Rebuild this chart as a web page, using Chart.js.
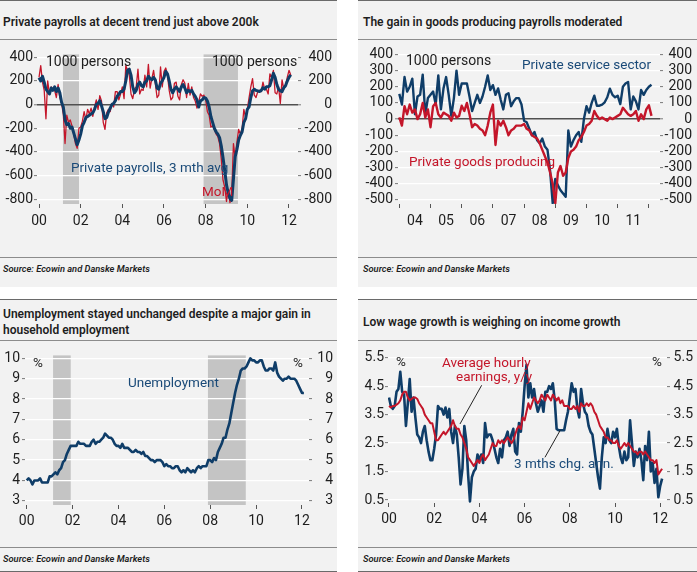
<!DOCTYPE html>
<html>
<head>
<meta charset="utf-8">
<script src="https://cdn.jsdelivr.net/npm/chart.js@4.4.0/dist/chart.umd.min.js"></script>
<style>
  body { margin: 0; width: 697px; height: 572px; background: #fff; position: relative; overflow: hidden;
         font-family: Roboto, "Noto Sans", sans-serif; color: #1e1e1e; }
  .panel { position: absolute; background: #f2f2f2; }
  .hline { position: absolute; height: 1px; background: #8c8c8c; }
  .hline.dark { background: #6a6a6a; }
  .title { position: absolute; font-size: 12px; font-weight: 600; line-height: 15.5px; white-space: nowrap; }
  .src { position: absolute; font-size: 9.3px; font-style: italic; font-weight: 600; line-height: 11px; white-space: nowrap; }
  .lbl { position: absolute; font-size: 13.5px; line-height: 14px; white-space: nowrap; }
  .unit { font-size: 14px; }
  .blue { color: #1a4a78; }
  .red { color: #c4162a; }
  canvas { position: absolute; }
</style>
</head>
<body>

<div class="panel" style="left:0;top:0;width:337px;height:287px"></div>
<div class="panel" style="left:358px;top:0;width:339px;height:287px"></div>
<div class="panel" style="left:0;top:299px;width:337px;height:273px"></div>
<div class="panel" style="left:358px;top:299px;width:339px;height:273px"></div>

<div class="hline dark" style="left:0;top:0;width:337px"></div>
<div class="hline dark" style="left:358px;top:0;width:339px"></div>
<div class="hline" style="left:0;top:39px;width:337px"></div>
<div class="hline" style="left:358px;top:39px;width:339px"></div>
<div class="hline" style="left:0;top:257px;width:337px"></div>
<div class="hline" style="left:358px;top:257px;width:339px"></div>

<div class="hline dark" style="left:0;top:299px;width:337px"></div>
<div class="hline dark" style="left:358px;top:299px;width:339px"></div>
<div class="hline" style="left:0;top:340px;width:337px"></div>
<div class="hline" style="left:358px;top:340px;width:339px"></div>
<div class="hline" style="left:0;top:547px;width:337px"></div>
<div class="hline" style="left:358px;top:547px;width:339px"></div>
<div class="hline dark" style="left:0;top:571px;width:337px"></div>
<div class="hline dark" style="left:358px;top:571px;width:339px"></div>

<div class="title" style="left:3px;top:15px">Private payrolls at decent trend just above 200k</div>
<div class="title" style="left:363px;top:15px">The gain in goods producing payrolls moderated</div>
<div class="title" style="left:3px;top:307px">Unemployment stayed unchanged despite a major gain in<br>household employment</div>
<div class="title" style="left:363px;top:315px">Low wage growth is weighing on income growth</div>

<div class="src" style="left:3px;top:263px">Source: Ecowin and Danske Markets</div>
<div class="src" style="left:363px;top:263px">Source: Ecowin and Danske Markets</div>
<div class="src" style="left:3px;top:553px">Source: Ecowin and Danske Markets</div>
<div class="src" style="left:363px;top:553px">Source: Ecowin and Danske Markets</div>

<canvas id="c1" width="337" height="200" style="left:0;top:42px"></canvas>
<canvas id="c2" width="339" height="200" style="left:358px;top:42px"></canvas>
<canvas id="c3" width="337" height="200" style="left:0;top:342px"></canvas>
<canvas id="c4" width="339" height="200" style="left:358px;top:342px"></canvas>

<div class="lbl unit" style="left:46px;top:54px">1000 persons</div>
<div class="lbl unit" style="left:212px;top:54px">1000 persons</div>
<div class="lbl blue" style="left:71px;top:160px">Private payrolls, 3 mth avg</div>
<div class="lbl red" style="left:202px;top:184px">MoM</div>

<div class="lbl unit" style="left:406px;top:53px">1000 persons</div>
<div class="lbl blue" style="left:522px;top:57px">Private service sector</div>
<div class="lbl red" style="left:409px;top:154px">Private goods producing</div>

<div class="lbl" style="left:33px;top:355px">%</div>
<div class="lbl" style="left:293px;top:355px">%</div>
<div class="lbl blue" style="left:128px;top:375px">Unemployment</div>

<div class="lbl" style="left:396px;top:354px">%</div>
<div class="lbl" style="left:652px;top:354px">%</div>
<div class="lbl red" style="left:442px;top:355px">Average hourly</div>
<div class="lbl red" style="left:456px;top:369px">earnings, y/y</div>
<div class="lbl blue" style="left:514px;top:456px">3 mths chg. ann.</div>

<script>
// monthly series, first value = January of the start year
const payrollStart = 2000;
const payrollsMoM = [
  230, 330, 190, 120, -120, 200, 90, 150, 130, 120, 60, 170,
  60, 10, -80, -330, -90, -150, -130, -180, -250, -330, -370, -200,
  -190, -140, -60, -130, -40, -80, -30, -100, -20, 40, -40, 75,
  30, -150, -210, -70, -40, -60, 10, -20, 110, 110, 40, 90,
  150, 50, 330, 290, 250, 90, 50, 130, 150, 300, 90, 130,
  120, 250, 150, 340, 140, 220, 290, 180, 60, 80, 320, 150,
  280, 310, 250, 120, 40, 60, 180, 190, 70, 40, 170, 210,
  180, 60, 180, 80, 150, 60, 30, -30, 20, 90, 70, 80,
  40, -60, -90, -190, -180, -210, -250, -270, -330, -460, -640, -700,
  -820, -720, -830, -760, -330, -450, -320, -210, -250, -200, -40, -110,
  -40, 60, 150, 220, 80, 60, 110, 120, 110, 190, 130, 130,
  90, 260, 230, 290, 100, 90, 150, 10, 210, 130, 160, 230,
  290, 250
];
const payrolls3m = [
  227, 200, 240, 190, 130, 110, 90, 140, 120, 150, 110, 140,
  100, 20, -20, -130, -170, -160, -200, -190, -240, -290, -340, -300,
  -250, -180, -150, -110, -100, -90, -80, -70, -40, 0, 10, 33,
  -10, -60, -119, -110, -63, -30, 0, 10, 33, 70, 88, 110,
  110, 130, 200, 290, 300, 250, 150, 100, 120, 170, 190, 160,
  150, 190, 200, 240, 220, 210, 230, 210, 140, 130, 180, 200,
  230, 280, 260, 200, 130, 100, 130, 150, 130, 110, 150, 170,
  140, 100, 120, 110, 120, 90, 70, 40, -20, 30, 40, 60,
  55, 30, -20, -100, -150, -200, -230, -250, -280, -350, -450, -560,
  -680, -750, -796, -810, -630, -440, -380, -300, -260, -230, -150, -119,
  -40, -20, 60, 116, 130, 120, 116, 110, 120, 143, 130, 150,
  150, 160, 210, 265, 230, 170, 130, 116, 110, 143, 160, 199,
  230, 253
];

const sectorStart = 2004;
const serviceSector = [
  156, 90, 260, 170, 200, 250, 30, 140, 150, 275, 30, 130,
  150, 170, 90, 270, 60, 190, 260, 150, 20, 130, 300, 150,
  220, 220, 220, 140, 50, 100, 150, 100, 140, 200, 270, 180,
  210, 150, 190, 120, 60, 150, 160, 80, 110, 130, 130, 90,
  -10, -20, -60, -100, -80, -130, -150, -120, -170, -190, -320, -520,
  -370, -410, -440, -460, -480, -70, -170, -130, -100, -80, -140, 0,
  80, 40, 100, 145, 83, 83, 90, 104, 135, 188, 150, 135,
  145, 93, 200, 220, 230, 60, 140, 110, 60, 180, 150, 180,
  200, 212
];
const goodsProducing = [
  10, -40, 80, 30, 90, 40, 60, 0, 30, 100, 10, 60,
  -50, 80, 100, 30, 10, 40, 30, 20, -10, 40, 10, 20,
  83, 50, 100, 30, -50, -30, -40, -60, -70, -100, -40, 40,
  90, -160, -10, -40, -10, -50, -100, -70, -60, -40, -40, -40,
  -30, -60, -70, -100, -110, -120, -150, -190, -230, -270, -330, -400,
  -520, -330, -290, -350, -330, -240, -200, -190, -170, -130, -110, -80,
  -40, -30, -10, 50, 20, 0, 10, 0, -10, 10, 0, 10,
  20, 30, 70, 50, 30, 20, 30, 50, -10, 30, 0, 60,
  85, 20
];

const unemploymentStart = 2000;
const unemployment = [
  4.0, 4.1, 4.0, 3.8, 4.0, 4.0, 4.0, 4.1, 3.9, 3.9, 3.9, 3.9,
  4.2, 4.2, 4.3, 4.4, 4.3, 4.5, 4.6, 4.9, 5.0, 5.3, 5.5, 5.7,
  5.7, 5.7, 5.7, 5.9, 5.8, 5.8, 5.8, 5.7, 5.7, 5.7, 5.9, 6.0,
  5.8, 5.9, 5.9, 6.0, 6.1, 6.3, 6.2, 6.1, 6.1, 6.0, 5.8, 5.7,
  5.7, 5.6, 5.8, 5.6, 5.6, 5.6, 5.5, 5.4, 5.4, 5.5, 5.4, 5.4,
  5.3, 5.4, 5.2, 5.2, 5.1, 5.0, 5.0, 4.9, 5.0, 5.0, 5.0, 4.9,
  4.7, 4.8, 4.7, 4.7, 4.6, 4.6, 4.7, 4.7, 4.5, 4.4, 4.5, 4.4,
  4.6, 4.5, 4.4, 4.5, 4.4, 4.6, 4.7, 4.6, 4.7, 4.7, 4.7, 5.0,
  5.0, 4.9, 5.1, 5.0, 5.4, 5.6, 5.8, 6.1, 6.1, 6.5, 6.8, 7.3,
  7.8, 8.3, 8.7, 9.0, 9.4, 9.5, 9.5, 9.6, 9.8, 10.0, 9.9, 9.9,
  9.8, 9.8, 9.9, 9.9, 9.6, 9.4, 9.4, 9.5, 9.5, 9.4, 9.8, 9.3,
  9.1, 9.0, 8.9, 9.0, 9.0, 9.1, 9.0, 9.0, 9.0, 8.9, 8.7, 8.5,
  8.3, 8.3
];

const earningsStart = 2000;
const earningsYoY = [
  3.8, 3.75, 3.8, 3.8, 3.85, 3.9, 4.0, 4.2, 4.3, 4.3, 4.1, 4.0,
  4.05, 4.1, 4.1, 4.05, 3.9, 3.8, 3.7, 3.5, 3.4, 3.3, 3.2, 3.2,
  2.9, 2.6, 2.6, 2.7, 2.8, 2.9, 2.8, 2.9, 3.0, 3.1, 3.3, 3.1,
  3.0, 3.0, 2.8, 2.7, 2.5, 2.3, 2.0, 1.9, 1.8, 1.7, 1.8, 1.9,
  1.8, 2.0, 2.1, 1.9, 2.0, 2.1, 2.3, 2.5, 2.4, 2.4, 2.6, 2.5,
  2.6, 2.5, 2.6, 2.7, 2.6, 2.5, 2.6, 2.8, 3.0, 3.1, 3.0, 3.4,
  3.3, 3.6, 3.9, 3.7, 3.9, 4.1, 4.0, 3.9, 4.0, 4.2, 4.1, 4.0,
  4.2, 4.1, 4.0, 4.2, 4.1, 4.0, 4.1, 3.9, 4.0, 3.8, 3.8, 3.8,
  3.7, 3.7, 3.8, 3.7, 3.8, 3.6, 3.9, 3.8, 3.8, 3.9, 3.8, 3.9,
  3.8, 3.6, 3.5, 3.3, 3.1, 3.0, 2.9, 2.7, 2.7, 2.6, 2.6, 2.5,
  2.5, 2.6, 2.4, 2.3, 2.4, 2.5, 2.4, 2.5, 2.4, 2.3, 2.2, 2.2,
  2.1, 2.2, 2.2, 2.1, 2.2, 2.1, 2.0, 1.9, 1.9, 1.8, 1.9, 1.4,
  1.5, 1.6
];
const earnings3m = [
  4.1, 3.8, 3.7, 3.8, 4.3, 4.4, 5.0, 4.3, 4.2, 3.1, 3.9, 4.75,
  3.6, 4.1, 3.4, 2.8, 2.7, 2.5, 2.9, 3.1, 2.6, 2.2, 1.9, 1.9,
  2.3, 2.8, 3.8, 3.7, 3.7, 3.5, 3.75, 3.4, 3.7, 2.9, 2.5, 3.1,
  2.8, 2.0, 1.05, 1.6, 3.1, 2.6, 1.4, 0.45, 1.3, 1.5, 1.6, 2.1,
  1.9, 2.1, 1.8, 3.2, 2.7, 2.8, 2.8, 2.6, 2.3, 2.0, 1.8, 2.3,
  2.0, 2.6, 2.7, 2.9, 2.4, 2.8, 3.0, 2.2, 2.1, 3.2, 2.9, 3.6,
  4.5, 5.25, 4.1, 4.6, 4.1, 4.4, 3.9, 3.6, 3.8, 4.0, 3.6, 4.3,
  4.3, 4.5, 4.4, 4.6, 4.0, 3.0, 2.95, 2.95, 2.95, 2.95, 3.3, 3.6,
  4.1, 4.6, 4.3, 4.4, 3.7, 3.4, 4.4, 3.9, 3.6, 3.5, 3.1, 2.9,
  2.8, 2.3, 1.8, 1.3, 0.9, 2.0, 2.7, 2.5, 3.0, 2.6, 2.5, 2.9,
  2.7, 3.0, 2.4, 2.0, 1.8, 2.2, 1.9, 2.0, 3.3, 2.5, 1.7, 2.2,
  2.0, 2.3, 1.9, 1.2, 2.4, 1.9, 2.9, 1.5, 1.8, 1.1, 1.6, 0.6,
  1.0, 1.25
];

// axes
const evenYears = [2000, 2002, 2004, 2006, 2008, 2010, 2012];
const evenYearLabels = ["00", "02", "04", "06", "08", "10", "12"];
const sectorYears = [2004, 2005, 2006, 2007, 2008, 2009, 2010, 2011, 2012];
const sectorYearLabels = ["04", "05", "06", "07", "08", "09", "10", "11"];
const payrollTicks = [400, 200, 0, -200, -400, -600, -800];
const sectorTicks = [400, 300, 200, 100, 0, -100, -200, -300, -400, -500];
const unemploymentTicks = [10, 9, 8, 7, 6, 5, 4, 3];
const earningsTicks = [5.5, 4.5, 3.5, 2.5, 1.5, 0.5];

// NBER recessions, decimal years
const recessions = [[2001.15, 2001.92], [2007.9, 2009.55]];

// leader lines for the wage labels, in data units [year, value]
const earningsLeaders = [
  [[2004.10, 4.53], [2003.14, 3.17]],
  [[2006.90, 2.00], [2007.57, 2.94]]
];

const BLUE = "#0f3d68";
const RED = "#c4162a";

function monthly(start, values) {
  return values.map((v, i) => ({ x: start + i / 12, y: v }));
}

const shadePlugin = {
  id: "shade",
  beforeDraw(chart, args, opts) {
    if (!opts.ranges) return;
    const { ctx, chartArea, scales } = chart;
    ctx.save();
    ctx.fillStyle = "#c4c4c4";
    opts.ranges.forEach(([a, b]) => {
      const x1 = scales.x.getPixelForValue(a);
      const x2 = scales.x.getPixelForValue(b);
      ctx.fillRect(x1, chartArea.top, x2 - x1, chartArea.bottom - chartArea.top);
    });
    ctx.restore();
  }
};

const leaderPlugin = {
  id: "leaders",
  afterDatasetsDraw(chart, args, opts) {
    if (!opts.lines) return;
    const { ctx, scales } = chart;
    ctx.save();
    ctx.strokeStyle = "#222";
    ctx.lineWidth = 1;
    opts.lines.forEach(([p, q]) => {
      ctx.beginPath();
      ctx.moveTo(scales.x.getPixelForValue(p[0]), scales.y.getPixelForValue(p[1]));
      ctx.lineTo(scales.x.getPixelForValue(q[0]), scales.y.getPixelForValue(q[1]));
      ctx.stroke();
    });
    ctx.restore();
  }
};

const tickFont = { family: "Roboto", size: 14 };

function yAxis(cfg, side) {
  const left = side === "left";
  const isZero = c => cfg.zeroLine && c.tick && c.tick.value === 0;
  return {
    position: side,
    min: cfg.yMin,
    max: cfg.yMax,
    afterBuildTicks: a => { a.ticks = cfg.yTicks.map(v => ({ value: v })); },
    afterFit: a => { a.width = left ? cfg.leftW : cfg.rightW; },
    border: { display: false },
    grid: {
      drawOnChartArea: left,
      color: c => isZero(c) ? "#505050" : "#ffffff",
      lineWidth: c => isZero(c) ? 1.6 : 1.2,
      tickColor: "#7a7a7a",
      tickLength: 3,
      tickWidth: 1
    },
    ticks: {
      font: tickFont,
      color: "#1e1e1e",
      padding: left ? cfg.leftPad : cfg.rightPad,
      crossAlign: left ? "near" : "far",
      autoSkip: false,
      callback: v => String(v)
    }
  };
}

function buildChart(id, cfg) {
  return new Chart(document.getElementById(id), {
    type: "line",
    data: { datasets: cfg.datasets },
    options: {
      responsive: false,
      animation: false,
      devicePixelRatio: 1,
      layout: { padding: { top: cfg.padTop, right: cfg.padRight, left: 0, bottom: 0 } },
      plugins: {
        legend: { display: false },
        tooltip: { enabled: false },
        shade: { ranges: cfg.shade },
        leaders: { lines: cfg.leaders }
      },
      elements: { point: { radius: 0 }, line: { tension: 0, borderJoinStyle: "round" } },
      scales: {
        x: {
          type: "linear",
          min: cfg.xMin,
          max: cfg.xMax,
          afterBuildTicks: a => { a.ticks = cfg.xTicks.map(v => ({ value: v })); },
          afterFit: a => { a.height = cfg.bottomH; },
          border: { display: false },
          grid: {
            drawOnChartArea: false,
            tickLength: 4,
            tickWidth: 1,
            tickColor: c => (c.tick && cfg.xTickShown(c.tick.value)) ? "#555" : "rgba(0,0,0,0)"
          },
          ticks: {
            font: tickFont,
            color: "#1e1e1e",
            padding: cfg.xPad,
            maxRotation: 0,
            autoSkip: false,
            callback: v => cfg.xLabel(v)
          }
        },
        y: yAxis(cfg, "left"),
        y2: yAxis(cfg, "right")
      }
    },
    plugins: [shadePlugin, leaderPlugin]
  });
}

const evenLabel = v => {
  const i = evenYears.indexOf(v);
  return i >= 0 ? evenYearLabels[i] : "";
};

// chart 1: private payrolls
buildChart("c1", {
  datasets: [
    { data: monthly(payrollStart, payrolls3m), borderColor: BLUE, borderWidth: 3 },
    { data: monthly(payrollStart, payrollsMoM), borderColor: RED, borderWidth: 1.3 }
  ],
  xMin: 1999.904, xMax: 2012.432, xTicks: evenYears, xLabel: evenLabel, xTickShown: () => true, xPad: 5,
  yMin: -841.4, yMax: 424.8, yTicks: payrollTicks, zeroLine: true,
  leftW: 37, rightW: 34, leftPad: 1, rightPad: 4, padTop: 9, padRight: 5, bottomH: 38,
  shade: recessions
});

// chart 2: services vs goods
const sectorTickVals = [];
sectorYears.forEach((y, i) => {
  sectorTickVals.push(y);
  if (i < sectorYearLabels.length) sectorTickVals.push(y + 0.5);
});
buildChart("c2", {
  datasets: [
    { data: monthly(sectorStart, goodsProducing), borderColor: RED, borderWidth: 2.4 },
    { data: monthly(sectorStart, serviceSector), borderColor: BLUE, borderWidth: 2.4 }
  ],
  xMin: 2003.958, xMax: 2012.356, xTicks: sectorTickVals,
  xLabel: v => (v % 1 === 0.5) ? sectorYearLabels[sectorYears.indexOf(v - 0.5)] : "",
  xTickShown: v => v % 1 === 0, xPad: 5,
  yMin: -524.8, yMax: 412.4, yTicks: sectorTicks, zeroLine: true,
  leftW: 40, rightW: 32, leftPad: 2, rightPad: 2, padTop: 10, padRight: 5, bottomH: 38
});

// chart 3: unemployment
buildChart("c3", {
  datasets: [
    { data: monthly(unemploymentStart, unemployment), borderColor: BLUE, borderWidth: 2.6 }
  ],
  xMin: 1999.926, xMax: 2012.306, xTicks: evenYears, xLabel: evenLabel, xTickShown: () => true, xPad: 4,
  yMin: 2.793, yMax: 10.144, yTicks: unemploymentTicks, zeroLine: false,
  leftW: 25, rightW: 24, leftPad: 2, rightPad: 5, padTop: 10, padRight: 4, bottomH: 37,
  shade: recessions
});

// chart 4: wages
buildChart("c4", {
  datasets: [
    { data: monthly(earningsStart, earningsYoY), borderColor: RED, borderWidth: 2 },
    { data: monthly(earningsStart, earnings3m), borderColor: BLUE, borderWidth: 2.6 }
  ],
  xMin: 1999.956, xMax: 2012.30, xTicks: evenYears, xLabel: evenLabel, xTickShown: () => true, xPad: 4,
  yMin: 0.396, yMax: 5.614, yTicks: earningsTicks, zeroLine: false,
  leftW: 30, rightW: 26, leftPad: 1, rightPad: 4, padTop: 10, padRight: 4, bottomH: 39,
  leaders: earningsLeaders
});
</script>
</body>
</html>
